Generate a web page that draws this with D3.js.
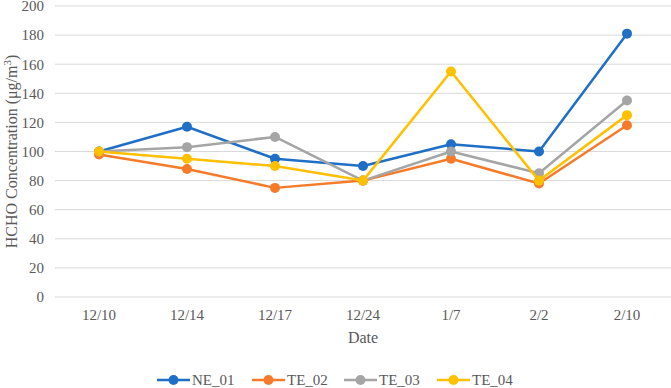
<!DOCTYPE html>
<html>
<head>
<meta charset="utf-8">
<script src="https://cdn.jsdelivr.net/npm/d3@7"></script>
<style>
  body { margin: 0; background: #fff; }
  svg text { font-family: "Liberation Serif", "Times New Roman", "DejaVu Serif", serif !important; fill: #595959; }
</style>
</head>
<body>
<script>
// chart data
var dates = ["12/10", "12/14", "12/17", "12/24", "1/7", "2/2", "2/10"];
var seriesNames = ["NE_01", "TE_02", "TE_03", "TE_04"];
var ne01 = [100, 117, 95, 90, 105, 100, 181];
var te02 = [98, 88, 75, 80, 95, 78, 118];
var te03 = [100, 103, 110, 80, 100, 85, 135];
var te04 = [100, 95, 90, 80, 155, 80, 125];
var yTicks = [0, 20, 40, 60, 80, 100, 120, 140, 160, 180, 200];

var colors = ["#1F6FC6", "#F57B2A", "#A5A5A5", "#FFC000"];
var allValues = [ne01, te02, te03, te04];

var width = 671, height = 388;
var margin = {top: 6, right: 0, bottom: 91, left: 55};

var svg = d3.select("body").append("svg")
    .attr("width", width)
    .attr("height", height);

var x = d3.scaleBand().domain(dates).range([margin.left, width - margin.right]),
    y = d3.scaleLinear().domain([0, 200]).range([height - margin.bottom, margin.top]);

// gridlines
svg.append("g").selectAll("line")
    .data(yTicks)
  .enter().append("line")
    .attr("x1", margin.left)
    .attr("x2", width - margin.right)
    .attr("y1", function(d) { return y(d); })
    .attr("y2", function(d) { return y(d); })
    .attr("stroke", "#d9d9d9")
    .attr("stroke-width", 1);

// y axis labels
var yAxis = svg.append("g")
    .attr("transform", "translate(" + margin.left + ",0)")
    .attr("font-family", null)
    .call(d3.axisLeft(y).tickValues(yTicks).tickSize(0).tickPadding(11));
yAxis.attr("font-family", null).attr("font-size", null);
yAxis.select(".domain").remove();
yAxis.selectAll("text").style("font-size", "15px").attr("fill", "#595959");

// x axis labels
var xAxis = svg.append("g")
    .attr("transform", "translate(0," + y(0) + ")")
    .call(d3.axisBottom(x).tickSize(0).tickPadding(12));
xAxis.attr("font-family", null).attr("font-size", null);
xAxis.select(".domain").remove();
xAxis.selectAll("text").style("font-size", "15px").attr("fill", "#595959");

// axis titles
svg.append("text")
    .attr("x", (margin.left + width) / 2)
    .attr("y", 343)
    .attr("text-anchor", "middle")
    .style("font-size", "16px")
    .text("Date");

var yTitle = svg.append("text")
    .attr("transform", "translate(17," + y(100) + ")rotate(-90)")
    .attr("text-anchor", "middle")
    .style("font-size", "16px");
yTitle.append("tspan").text("HCHO Concentration (μg/m");
yTitle.append("tspan").attr("dy", -6).style("font-size", "11px").text("3");
yTitle.append("tspan").attr("dy", 6).text(")");

// series lines + markers
var line = d3.line()
    .x(function(d, i) { return x(dates[i]) + x.bandwidth() / 2; })
    .y(function(d) { return y(d); });

allValues.forEach(function(vals, k) {
  var g = svg.append("g");
  g.append("path")
      .datum(vals)
      .attr("d", line)
      .attr("fill", "none")
      .attr("stroke", colors[k])
      .attr("stroke-width", 2.5)
      .attr("stroke-linejoin", "round");
  g.selectAll("circle")
      .data(vals)
    .enter().append("circle")
      .attr("cx", function(d, i) { return x(dates[i]) + x.bandwidth() / 2; })
      .attr("cy", function(d) { return y(d); })
      .attr("r", 5)
      .attr("fill", colors[k]);
});

// legend
var legendX = [157, 252, 344, 437];
var legend = svg.append("g").selectAll("g")
    .data(seriesNames)
  .enter().append("g")
    .attr("transform", function(d, i) { return "translate(" + legendX[i] + ",380)"; });
legend.append("line")
    .attr("x1", 0).attr("x2", 33)
    .attr("stroke", function(d, i) { return colors[i]; })
    .attr("stroke-width", 2.5);
legend.append("circle")
    .attr("cx", 16.5).attr("r", 5)
    .attr("fill", function(d, i) { return colors[i]; });
legend.append("text")
    .attr("x", 35)
    .attr("dy", "0.35em")
    .style("font-size", "15px")
    .text(function(d) { return d; });
</script>
</body>
</html>
